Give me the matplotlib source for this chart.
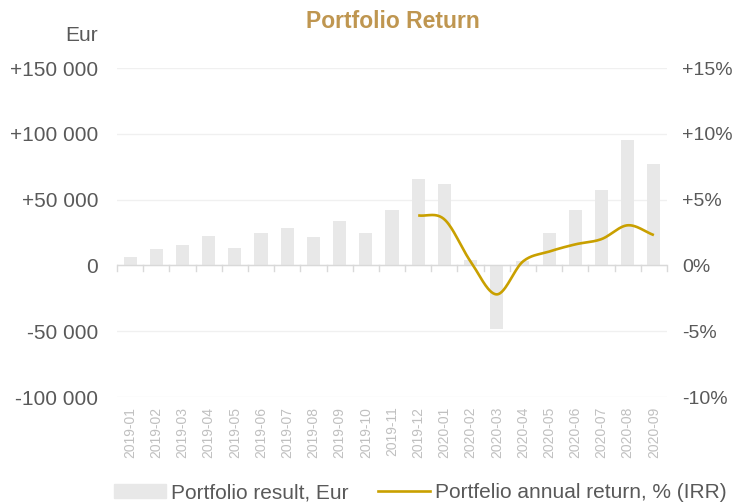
import numpy as np
import matplotlib.pyplot as plt
from matplotlib.patches import Patch
from matplotlib.lines import Line2D

plt.rcParams['font.family'] = ['Liberation Sans', 'DejaVu Sans']

# data
months = ["2019-01", "2019-02", "2019-03", "2019-04", "2019-05", "2019-06", "2019-07",
          "2019-08", "2019-09", "2019-10", "2019-11", "2019-12", "2020-01", "2020-02",
          "2020-03", "2020-04", "2020-05", "2020-06", "2020-07", "2020-08", "2020-09"]
result_eur = [6400, 12500, 15500, 22600, 13500, 24600, 28700, 21600, 34000, 24600, 42100,
              65700, 61600, 4300, -48200, 3000, 24600, 42400, 57600, 95600, 77100]
# annual return (IRR) starts at 2019-12
irr_months = months[11:]
irr_pct = [3.8, 3.5, 0.3, -2.2, 0.3, 1.05, 1.6, 2.0, 3.05, 2.3]

TEXT = "#595959"
BAR = "#E8E8E8"
GOLD = "#C9A000"
TITLE = "#BF9650"


def smooth(x, y, n=30):
    # catmull-rom curve through the points, like excel's "smoothed line"
    x = np.asarray(x, float)
    y = np.asarray(y, float)
    px = np.concatenate([[2 * x[0] - x[1]], x, [2 * x[-1] - x[-2]]])
    py = np.concatenate([[2 * y[0] - y[1]], y, [2 * y[-1] - y[-2]]])
    xs, ys = [], []
    for i in range(1, len(px) - 2):
        t = np.linspace(0, 1, n, endpoint=False)
        for p, out in ((px, xs), (py, ys)):
            p0, p1, p2, p3 = p[i - 1], p[i], p[i + 1], p[i + 2]
            out.extend(0.5 * (2 * p1 + (-p0 + p2) * t + (2 * p0 - 5 * p1 + 4 * p2 - p3) * t ** 2
                              + (-p0 + 3 * p1 - 3 * p2 + p3) * t ** 3))
    xs.append(x[-1])
    ys.append(y[-1])
    return xs, ys


fig = plt.figure(figsize=(7.34, 5.04), dpi=100)
ax = fig.add_axes([0.1594, 0.2123, 0.7493, 0.6527])

x = np.arange(len(months))
ax.bar(x, result_eur, width=0.5, color=BAR, zorder=2)
ax.set_ylim(-100000, 150000)
ax.set_xlim(-0.5, len(months) - 0.5)
ax.set_yticks([-100000, -50000, 0, 50000, 100000, 150000])
ax.set_yticklabels(["-100 000", "-50 000", "0", "+50 000", "+100 000", "+150 000"])
ax.grid(axis="y", color="#F0F0F0", linewidth=1, zorder=0)
ax.axhline(0, color="#D9D9D9", linewidth=1, zorder=3)
for s in ax.spines.values():
    s.set_visible(False)
ax.tick_params(axis="y", length=0, labelsize=15, labelcolor=TEXT, pad=13.5)

# category labels at the bottom, tick marks on the zero line
ax.set_xticks(x)
ax.set_xticklabels(months, rotation=90, fontsize=10, color="#C0C0C0")
ax.tick_params(axis="x", length=0, pad=7)
for b in np.arange(len(months) + 1) - 0.5:
    ax.plot([b, b], [0, -4000], color="#D9D9D9", linewidth=1, zorder=3, clip_on=False)

ax2 = ax.twinx()
ax2.set_ylim(-10, 15)
ax2.set_yticks([-10, -5, 0, 5, 10, 15])
ax2.set_yticklabels(["-10%", "-5%", "0%", "+5%", "+10%", "+15%"])
ax2.tick_params(axis="y", length=0, labelsize=14, labelcolor=TEXT, pad=11)
for s in ax2.spines.values():
    s.set_visible(False)
ix = [months.index(m) for m in irr_months]
sx, sy = smooth(ix, irr_pct)
ax2.plot(sx, sy, color=GOLD, linewidth=1.9, solid_capstyle="butt", zorder=4)

fig.text(0.133, 0.9286, "Eur", ha="right", va="center", fontsize=15, color=TEXT)
fig.text(0.535, 0.957, "Portfolio Return", ha="center", va="center",
         fontsize=16.5, fontweight="bold", color=TITLE)

handles = [Patch(color=BAR), Line2D([0], [0], color=GOLD, linewidth=1.9)]
fig.legend(handles, ["Portfolio result, Eur", "Portfelio annual return, % (IRR)"],
           loc="center", bbox_to_anchor=(0.573, 0.022), ncol=2, frameon=False,
           fontsize=15, labelcolor=TEXT, handlelength=2.5, handletextpad=0.25,
           columnspacing=1.4, borderpad=0)

fig.savefig("out.png", dpi=100)
